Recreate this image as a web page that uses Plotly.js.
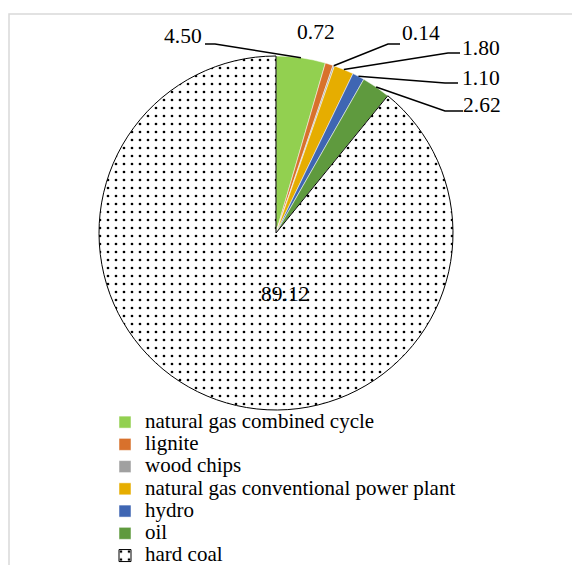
<!DOCTYPE html>
<html><head><meta charset="utf-8">
<script src="https://cdn.plot.ly/plotly-3.0.1.min.js"></script>
<style>html,body{margin:0;padding:0;background:#fff}</style>
</head><body><div id="chart" style="width:572px;height:565px"></div>
<script>
// ---- data ----
const categories = ['natural gas combined cycle','lignite','wood chips','natural gas conventional power plant','hydro','oil','hard coal'];
const values = [4.50, 0.72, 0.14, 1.80, 1.10, 2.62, 89.12];
const valueLabels = ['4.50','0.72','0.14','1.80','1.10','2.62','89.12'];

// ---- styles / layout ----
const sliceColors = ['#92D050','#D8712C','#A0A0A0','#E6AD00','#3F66B3','#5F9A3E','#FFFFFF'];
const patternShapes = ['','','','','','','.'];
const W = 572, H = 565;
const cx = 276, cy = 233, R = 177;           // pie centre / radius (px)
const labelX = [183,316,421,481,481,482,285];  // value label centres (px)
const labelY = [36,32,33,48.5,77.5,105,294];
const leaderStartX = [205,null,400,460,458,463,null];
const leaderElbowX = [215,null,388,448,445,445,null];
const leaderY = [44,null,44,53,83,111,null];
const FONT = '"Liberation Serif", "Times New Roman", serif';

const px = x => x / W, py = y => 1 - y / H;

const total = values.reduce((a,b)=>a+b,0);
let cum = 0;
const shapes = [];
const annotations = [];
values.forEach((v,i) => {
  const mid = (cum + v/2) / total * 2 * Math.PI;   // clockwise from 12 o'clock
  cum += v;
  if (leaderY[i] !== null) {
    const ex = cx + R * Math.sin(mid), ey = cy - R * Math.cos(mid);
    shapes.push({type:'path', xref:'paper', yref:'paper',
      path:`M${px(leaderStartX[i])},${py(leaderY[i])} L${px(leaderElbowX[i])},${py(leaderY[i])} L${px(ex)},${py(ey)}`,
      line:{color:'#000', width:1.5}});
  }
  annotations.push({xref:'paper', yref:'paper', x:px(labelX[i]), y:py(labelY[i]),
    xanchor:'center', yanchor:'middle', showarrow:false, text:valueLabels[i],
    font:{family:FONT, size:21.5, color:'#000'}});
});
// chart-area frame
shapes.push({type:'rect', xref:'paper', yref:'paper', x0:px(9), x1:1.05, y0:-0.05, y1:py(14),
  line:{color:'#D9D9D9', width:1.5}, layer:'below'});

const trace = {
  type:'pie',
  labels: categories.map(c => `<span style="font-size:21px">${c}</span>`),
  values: values,
  sort:false, direction:'clockwise', rotation:0,
  textinfo:'none', hoverinfo:'skip',
  marker:{
    colors: sliceColors,
    line:{color:['#fff','#fff','#fff','#fff','#fff','#fff','#000'], width:[0.5,0.5,0.5,0.5,0.5,0.5,1]},
    pattern:{shape:patternShapes, fgcolor:'#000', size:8, solidity:0.09, fillmode:'replace'}
  },
  domain:{x:[px(cx-R), px(cx+R)], y:[py(cy+R), py(cy-R)]}
};

const layout = {
  width:W, height:H,
  font:{family:FONT},
  margin:{l:0,r:0,t:0,b:0, autoexpand:false},
  paper_bgcolor:'#fff',
  showlegend:true,
  legend:{x:px(105), xanchor:'left', y:py(406), yanchor:'top',
    font:{family:FONT, size:14.8, color:'#000'}, bgcolor:'rgba(0,0,0,0)',
    traceorder:'normal', itemclick:false, itemdoubleclick:false},
  shapes:shapes, annotations:annotations
};
Plotly.newPlot('chart', [trace], layout, {displayModeBar:false, staticPlot:true});
</script></body></html>
